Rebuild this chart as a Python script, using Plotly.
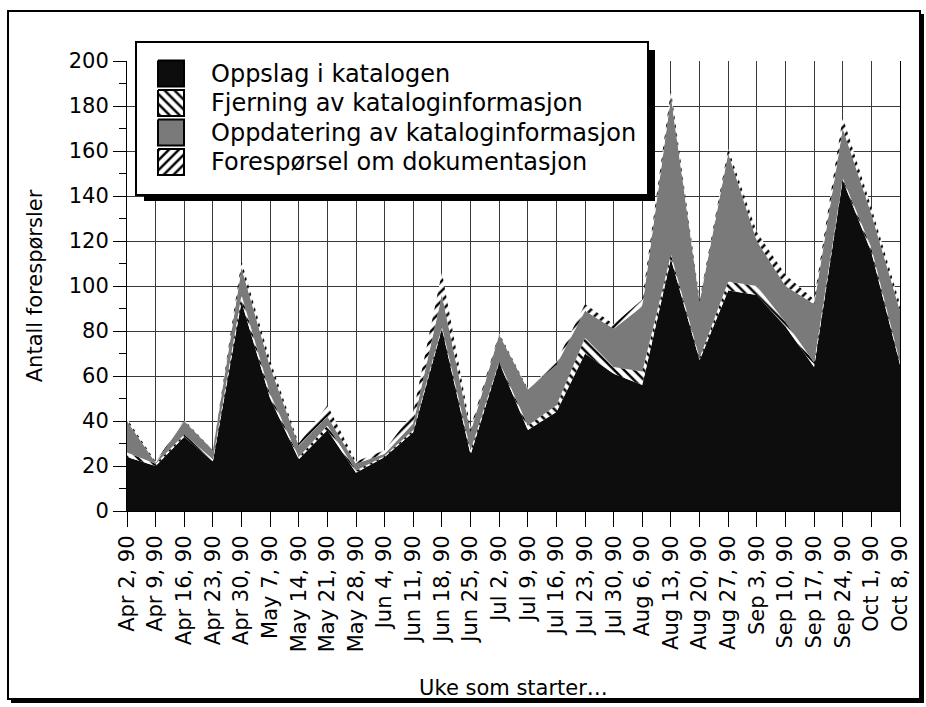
import plotly.graph_objects as go

weeks = ["Apr 2, 90", "Apr 9, 90", "Apr 16, 90", "Apr 23, 90", "Apr 30, 90",
         "May 7, 90", "May 14, 90", "May 21, 90", "May 28, 90", "Jun 4, 90",
         "Jun 11, 90", "Jun 18, 90", "Jun 25, 90", "Jul 2, 90", "Jul 9, 90",
         "Jul 16, 90", "Jul 23, 90", "Jul 30, 90", "Aug 6, 90", "Aug 13, 90",
         "Aug 20, 90", "Aug 27, 90", "Sep 3, 90", "Sep 10, 90", "Sep 17, 90",
         "Sep 24, 90", "Oct 1, 90", "Oct 8, 90"]

oppslag = [24, 20, 33, 22, 93, 50, 23, 36, 17, 24, 35, 81, 25, 66, 36, 44, 70, 61,
           56, 112, 67, 98, 96, 82, 64, 147, 115, 65]
fjerning = [2, 1, 1, 1, 3, 2, 1, 2, 1, 0.5, 1, 1, 2, 0.5, 2, 3, 7, 3,
            6, 2, 1, 4, 4, 2, 2, 1, 2, 1]
oppdatering = [14, 0.5, 6, 4, 12, 12, 5, 4, 3, 1, 3, 14, 8, 12, 16, 18, 12, 17,
               29, 70, 25, 57, 20, 16, 26, 22, 15, 23]
foresporsel = [1, 0.5, 0.5, 0, 3, 3, 1, 5, 1, 1.5, 5, 10, 2, 0.5, 0.5, 1.5, 3, 2,
               3, 3, 1, 2, 4, 5, 2, 5, 3, 3]

series_names = ["Oppslag i katalogen",
                "Fjerning av kataloginformasjon",
                "Oppdatering av kataloginformasjon",
                "Forespørsel om dokumentasjon"]
y_ticks = [0, 20, 40, 60, 80, 100, 120, 140, 160, 180, 200]

FONT = "DejaVu Sans"
W, H = 926, 707
ML, MR, MT, MB = 127, 26, 40, 196
PW, PH = W - ML - MR, H - MT - MB


def px(x):
    return (x - ML) / PW


def py(y):
    return (H - MB - y) / PH


BLACK = "#0d0d0d"
GRAY = "#7a7a7a"

styles = [
    dict(fillcolor=BLACK, fillpattern=None),
    dict(fillcolor="white", fillpattern=dict(shape="\\", fgcolor="black", bgcolor="white",
                                             size=7, solidity=0.35, fillmode="replace")),
    dict(fillcolor=GRAY, fillpattern=None),
    dict(fillcolor="white", fillpattern=dict(shape="/", fgcolor="black", bgcolor="white",
                                             size=7, solidity=0.35, fillmode="replace")),
]

fig = go.Figure()
for name, vals, st in zip(series_names, [oppslag, fjerning, oppdatering, foresporsel], styles):
    kw = dict(x=weeks, y=vals, name=name, stackgroup="one", mode="lines",
              line=dict(width=0, color="black"), fillcolor=st["fillcolor"],
              showlegend=False, hoverinfo="x+y+name")
    if st["fillpattern"]:
        kw["fillpattern"] = st["fillpattern"]
    fig.add_trace(go.Scatter(**kw))

# custom legend drawn in its own small subplot (pixel-like coordinates)
sw_x0, sw_x1 = 158, 184
row_top = [60.5, 90, 119.5, 149]
row_h = 26
for name, top, st in zip(series_names, row_top, styles):
    kw = dict(x=[sw_x0, sw_x1, sw_x1, sw_x0, sw_x0],
              y=[top, top, top + row_h, top + row_h, top],
              mode="lines", fill="toself", fillcolor=st["fillcolor"],
              line=dict(color="black", width=2), xaxis="x2", yaxis="y2",
              showlegend=False, hoverinfo="skip")
    if st["fillpattern"]:
        kw["fillpattern"] = st["fillpattern"]
    fig.add_trace(go.Scatter(**kw))
    fig.add_annotation(x=209, y=top + row_h / 2, xref="x2", yref="y2", text=name,
                       showarrow=False, xanchor="left", yanchor="middle",
                       font=dict(family=FONT, size=24, color="black"))

grid_col = "#3a3a3a"
fig.update_layout(
    width=W, height=H,
    margin=dict(l=ML, r=MR, t=MT, b=MB),
    paper_bgcolor="white", plot_bgcolor="white",
    font=dict(family=FONT, size=21, color="black"),
    xaxis=dict(type="category", categoryorder="array", categoryarray=weeks,
               range=[0, len(weeks) - 1], domain=[0, 1],
               showgrid=True, gridcolor=grid_col, gridwidth=1,
               ticks="outside", ticklen=15, tickcolor="black", tickwidth=1,
               tickangle=-90, tickfont=dict(family=FONT, size=21),
               showline=True, linecolor="black", linewidth=1,
               title=dict(text="Uke som starter…", font=dict(family=FONT, size=21),
                          standoff=29),
               zeroline=False),
    yaxis=dict(range=[0, 200], tickvals=y_ticks, domain=[0, py(61)],
               showgrid=True, gridcolor=grid_col, gridwidth=1,
               ticks="outside", ticklen=13, tickcolor="black", tickwidth=1,
               minor=dict(dtick=10, ticks="outside", ticklen=7, tickcolor="black",
                          showgrid=False),
               tickfont=dict(family=FONT, size=21),
               showline=True, linecolor="black", linewidth=1, mirror=True,
               title=dict(text="Antall forespørsler", font=dict(family=FONT, size=21),
                          standoff=20),
               zeroline=False),
    xaxis2=dict(domain=[px(137), px(647)], range=[137, 647], anchor="y2",
                showgrid=False, zeroline=False, showticklabels=False, ticks="",
                showline=True, mirror=True, linecolor="black", linewidth=2,
                fixedrange=True),
    yaxis2=dict(domain=[py(194), py(43)], range=[194, 43], anchor="x2",
                showgrid=False, zeroline=False, showticklabels=False, ticks="",
                showline=True, mirror=True, linecolor="black", linewidth=2,
                fixedrange=True),
)

# legend box shadow
fig.add_shape(type="path", xref="paper", yref="paper", layer="above",
              path=(f"M{px(648)},{py(50)} L{px(655)},{py(50)} L{px(655)},{py(201)} "
                    f"L{px(144)},{py(201)} L{px(144)},{py(195)} L{px(648)},{py(195)} Z"),
              fillcolor="black", line=dict(width=0))

# outer frame with slight shadow
fig.add_shape(type="rect", xref="paper", yref="paper", layer="above",
              x0=px(8), x1=px(920), y0=py(699), y1=py(11),
              line=dict(color="black", width=2), fillcolor="rgba(0,0,0,0)")
fig.add_shape(type="path", xref="paper", yref="paper", layer="above",
              path=(f"M{px(920)},{py(14)} L{px(924)},{py(14)} L{px(924)},{py(703)} "
                    f"L{px(11)},{py(703)} L{px(11)},{py(699)} L{px(920)},{py(699)} Z"),
              fillcolor="black", line=dict(width=0))

fig.write_html("out.html",
               config={"displayModeBar": False},
               post_script="document.body.style.margin='0';"
                           "document.body.style.overflow='hidden';")
